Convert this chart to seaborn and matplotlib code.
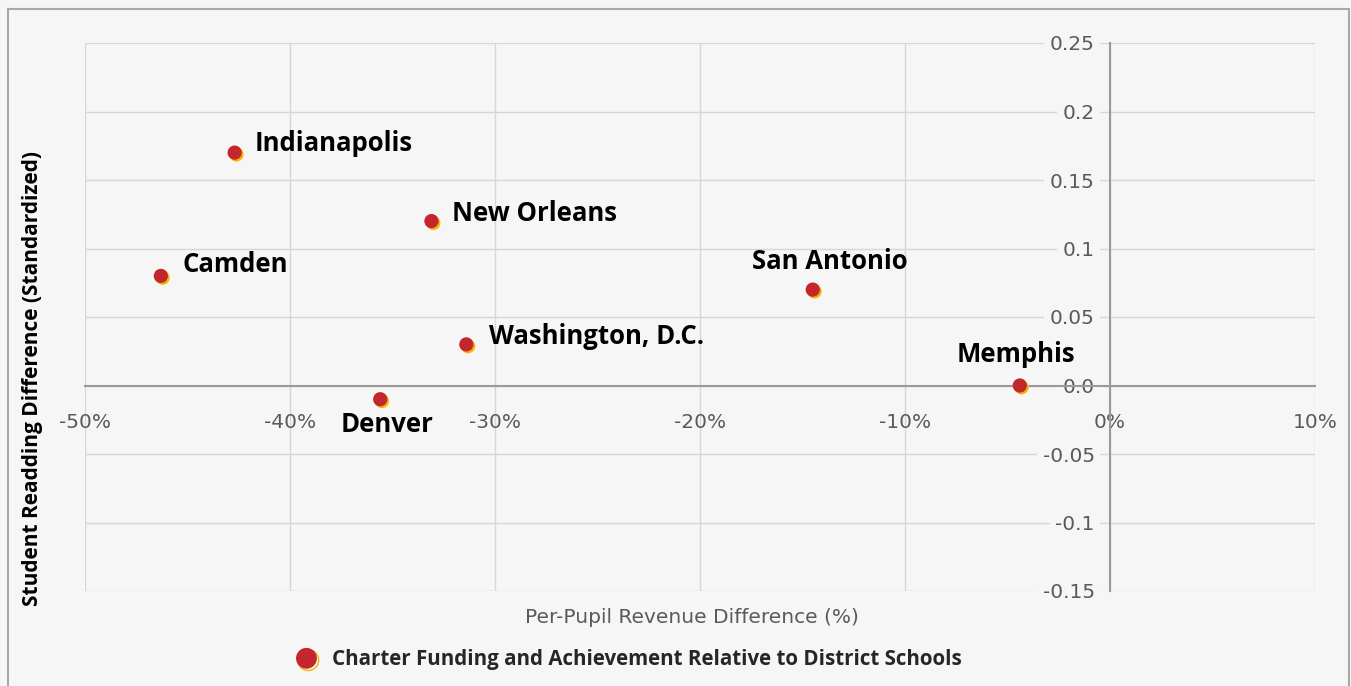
import matplotlib
matplotlib.use("Agg")
import matplotlib.pyplot as plt
import matplotlib.patheffects as pe
from matplotlib.patches import Rectangle
import pandas as pd
import seaborn as sns

cities = ["Indianapolis", "Camden", "New Orleans", "San Antonio",
          "Washington, D.C.", "Denver", "Memphis"]
revenue_diff = [-42.7, -46.3, -33.1, -14.5, -31.4, -35.6, -4.4]
reading_diff = [0.17, 0.08, 0.12, 0.07, 0.03, -0.01, 0.0]

x_ticks = [-50, -40, -30, -20, -10, 0, 10]
x_tick_labels = ["-50%", "-40%", "-30%", "-20%", "-10%", "0%", "10%"]
y_ticks = [0.25, 0.2, 0.15, 0.1, 0.05, 0.0, -0.05, -0.1, -0.15]
y_tick_labels = ["0.25", "0.2", "0.15", "0.1", "0.05", "0.0", "-0.05", "-0.1", "-0.15"]

series_name = "Charter Funding and Achievement Relative to District Schools"

# label offsets (pixels) and alignment per city
label_style = {
    "Indianapolis": ((20, 9), "left"),
    "Camden": ((22, 11), "left"),
    "New Orleans": ((21, 8), "left"),
    "San Antonio": ((17, 28), "center"),
    "Washington, D.C.": ((23, 8), "left"),
    "Denver": ((7, -25), "center"),
    "Memphis": ((-4, 31), "center"),
}

BG = "#f6f6f6"
RED = "#c4262e"
GOLD = "#f2b705"
GRID = "#d6d6d6"
AXIS = "#9a9a9a"
TICK = "#5a5a5a"

df = pd.DataFrame({"city": cities, "rev": revenue_diff, "read": reading_diff})

sns.set_theme(style="whitegrid")
plt.rcParams["font.family"] = ["Open Sans", "DejaVu Sans"]

fig = plt.figure(figsize=(13.51, 6.86), dpi=100, facecolor=BG)
ax = fig.add_axes([85 / 1351, 1 - 591 / 686, 1230 / 1351, 548 / 686])
ax.set_facecolor(BG)

shadow = [pe.SimplePatchShadow(offset=(1.3, -1.3), shadow_rgbFace=GOLD, alpha=1.0),
          pe.Normal()]

sns.scatterplot(data=df, x="rev", y="read", ax=ax, s=105, color=RED,
                edgecolor="none", label=series_name, legend=False, zorder=5)
for coll in ax.collections:
    coll.set_path_effects(shadow)

for _, row in df.iterrows():
    (dx, dy), ha = label_style[row["city"]]
    ax.annotate(row["city"], (row["rev"], row["read"]), xytext=(dx, dy),
                textcoords="offset pixels", ha=ha, va="center",
                fontsize=18.5, fontweight="bold", color="black", zorder=6)

ax.set_xlim(-50, 10)
ax.set_ylim(-0.15, 0.25)
ax.set_xticks(x_ticks)
ax.set_xticklabels(x_tick_labels)
ax.set_yticks(y_ticks)
ax.set_yticklabels(y_tick_labels)

ax.grid(True, color=GRID, lw=1.0)
for side in ["top", "right"]:
    ax.spines[side].set_visible(False)
ax.spines["left"].set_position(("data", 0))
ax.spines["bottom"].set_position(("data", 0))
for side in ["left", "bottom"]:
    ax.spines[side].set_color(AXIS)
    ax.spines[side].set_linewidth(1.5)
    ax.spines[side].set_zorder(3)

tick_font = "DejaVu Sans"
ax.tick_params(axis="both", length=0, labelsize=14.5, labelcolor=TICK)
ax.tick_params(axis="x", pad=20)
ax.tick_params(axis="y", pad=11)
for lbl in ax.get_xticklabels() + ax.get_yticklabels():
    lbl.set_family(tick_font)
for lbl in ax.get_yticklabels():
    lbl.set_bbox(dict(facecolor=BG, edgecolor="none", pad=4))
    lbl.set_zorder(4)

ax.set_xlabel("Per-Pupil Revenue Difference (%)", fontsize=14.5, color=TICK,
              family=tick_font)
ax.xaxis.set_label_coords(0.4935, -0.049)
ax.xaxis.label.set_va("center")
ax.set_ylabel("")

fig.text(33 / 1351, 1 - 379 / 686, "Student Readding Difference (Standardized)",
         rotation=90, ha="center", va="center", fontsize=15,
         fontweight="bold", color="black")

handle = plt.Line2D([], [], marker="o", ls="none", markersize=15,
                    markerfacecolor=RED, markeredgecolor="none",
                    path_effects=[pe.SimpleLineShadow(offset=(1.3, -1.3), shadow_color=GOLD, alpha=1.0),
                                  pe.Normal()])
leg = fig.legend([handle], [series_name], loc="center",
                 bbox_to_anchor=(628 / 1351, 1 - 660 / 686), frameon=False,
                 prop={"weight": "bold", "size": 14.8}, handletextpad=0.65,
                 handlelength=1.2)

fig.patches.append(Rectangle((8 / 1351, -0.01), 1341 / 1351, 1 - 9 / 686 + 0.01,
                             transform=fig.transFigure, fill=False,
                             edgecolor="#a8a8a8", lw=1.5))

fig.savefig("out.png", dpi=100, facecolor=BG)
